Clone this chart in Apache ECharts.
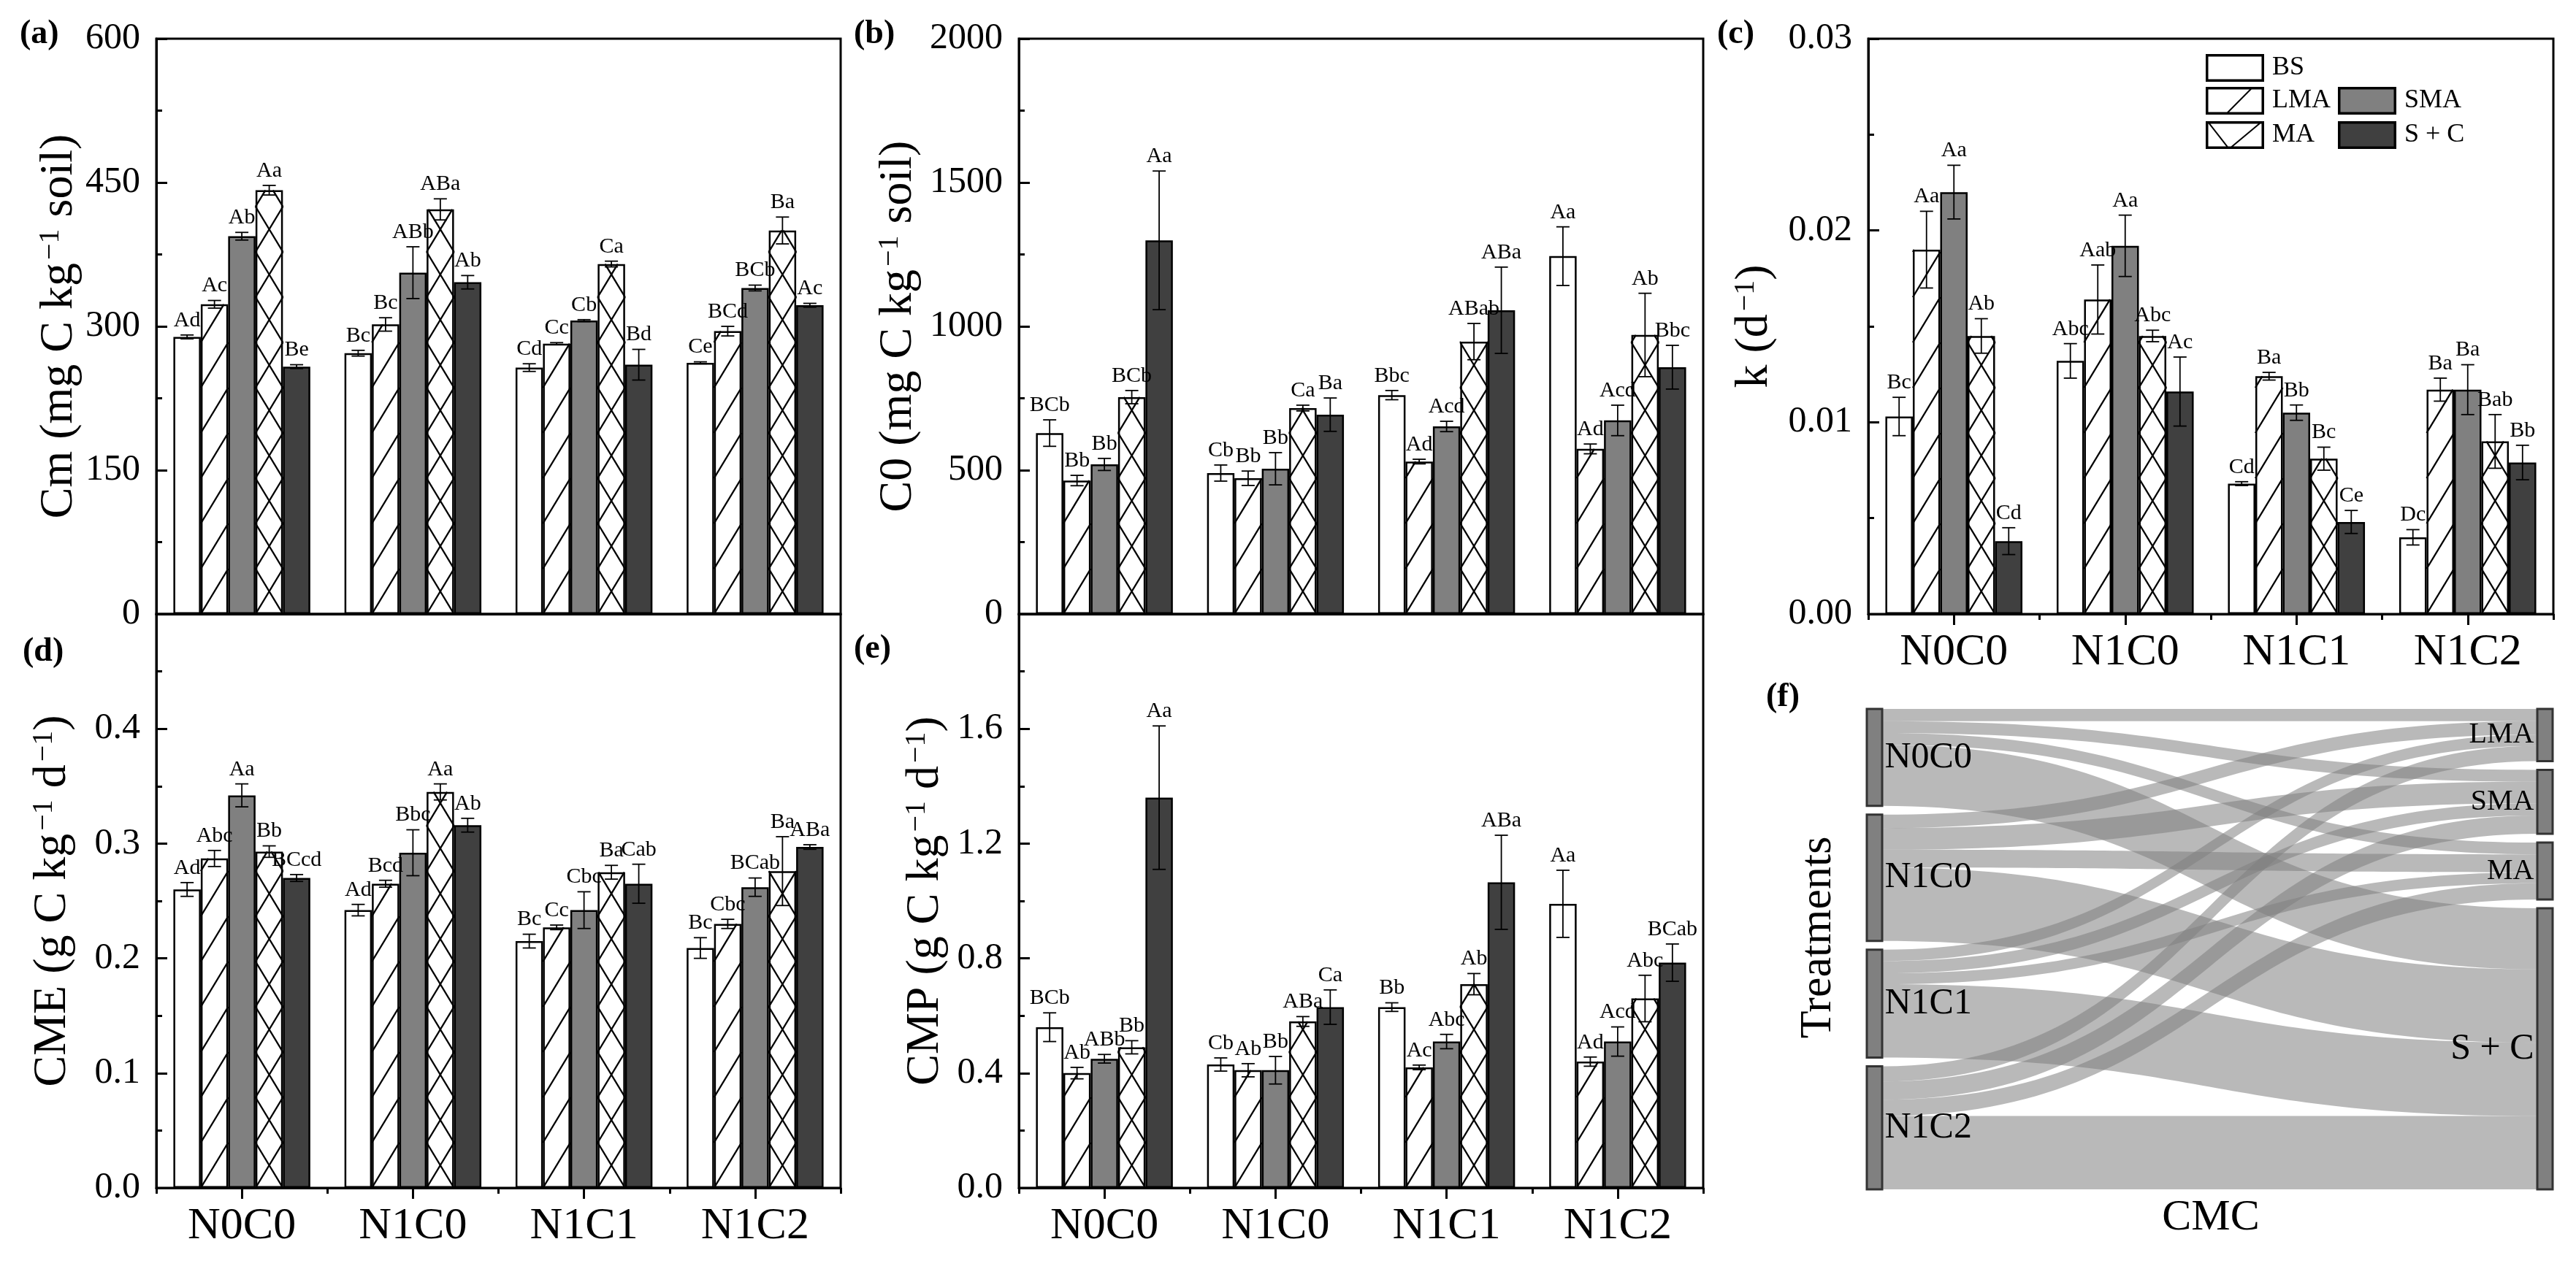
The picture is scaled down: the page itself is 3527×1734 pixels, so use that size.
<!DOCTYPE html>
<html><head><meta charset="utf-8">
<script src="https://cdn.jsdelivr.net/npm/echarts@6/dist/echarts.min.js"></script>
<style>html,body{margin:0;padding:0;background:#fff}#c{width:3527px;height:1734px}</style>
</head><body><div id="c"></div>
<script>
// ---------------- DATA ----------------
const categories = ['N0C0', 'N1C0', 'N1C1', 'N1C2'];
const seriesNames = ['BS', 'LMA', 'SMA', 'MA', 'S + C'];

// (a) Cm (mg C kg-1 soil): rows = BS, LMA, SMA, MA, S+C ; cols = categories
const cmMean = [[289, 272, 257, 262], [323, 302, 282, 295], [394, 356, 306, 340], [442, 422, 365, 400], [258, 346, 260, 322]];
const cmErr = [[2, 3, 4, 1], [4, 7, 1, 5], [4, 27, 1, 3], [5, 11, 3, 14], [2, 7, 16, 2]];
const cmLetters = [['Ad', 'Bc', 'Cd', 'Ce'], ['Ac', 'Bc', 'Cc', 'BCd'], ['Ab', 'ABb', 'Cb', 'BCb'], ['Aa', 'ABa', 'Ca', 'Ba'], ['Be', 'Ab', 'Bd', 'Ac']];

// (b) C0 (mg C kg-1 soil)
const c0Mean = [[629, 490, 761, 1244], [464, 472, 530, 574], [520, 505, 652, 673], [754, 716, 947, 970], [1299, 693, 1056, 858]];
const c0Err = [[46, 28, 16, 102], [18, 25, 8, 17], [21, 56, 18, 53], [23, 10, 63, 145], [241, 58, 150, 76]];
const c0Letters = [['BCb', 'Cb', 'Bbc', 'Aa'], ['Bb', 'Bb', 'Ad', 'Ad'], ['Bb', 'Bb', 'Acd', 'Acd'], ['BCb', 'Ca', 'ABab', 'Ab'], ['Aa', 'Ba', 'ABa', 'Bbc']];

// (c) k (d-1)
const kMean = [[0.0103, 0.0132, 0.0068, 0.0040], [0.0190, 0.0164, 0.0124, 0.0117], [0.0220, 0.0192, 0.0105, 0.0117], [0.0145, 0.0145, 0.0081, 0.0090], [0.0038, 0.0116, 0.0048, 0.0079]];
const kErr = [[0.0010, 0.0009, 0.0001, 0.0004], [0.0020, 0.0018, 0.0002, 0.0006], [0.0014, 0.0016, 0.0004, 0.0013], [0.0009, 0.0003, 0.0006, 0.0014], [0.0007, 0.0018, 0.0006, 0.0009]];
const kLetters = [['Bc', 'Abc', 'Cd', 'Dc'], ['Aa', 'Aab', 'Ba', 'Ba'], ['Aa', 'Aa', 'Bb', 'Ba'], ['Ab', 'Abc', 'Bc', 'Bab'], ['Cd', 'Ac', 'Ce', 'Bb']];

// (d) CME (g C kg-1 d-1)
const cmeMean = [[0.260, 0.242, 0.215, 0.209], [0.287, 0.265, 0.227, 0.230], [0.342, 0.292, 0.242, 0.262], [0.293, 0.345, 0.275, 0.276], [0.270, 0.316, 0.265, 0.297]];
const cmeErr = [[0.006, 0.005, 0.006, 0.009], [0.007, 0.003, 0.002, 0.004], [0.010, 0.020, 0.016, 0.008], [0.005, 0.007, 0.006, 0.030], [0.003, 0.006, 0.017, 0.002]];
const cmeLetters = [['Ad', 'Ad', 'Bc', 'Bc'], ['Abc', 'Bcd', 'Cc', 'Cbc'], ['Aa', 'Bbc', 'Cbc', 'BCab'], ['Bb', 'Aa', 'Ba', 'Ba'], ['BCcd', 'Ab', 'Cab', 'ABa']];

// (e) CMP (g C kg-1 d-1)
const cmpMean = [[0.56, 0.43, 0.63, 0.99], [0.40, 0.41, 0.42, 0.44], [0.45, 0.41, 0.51, 0.51], [0.49, 0.58, 0.71, 0.66], [1.36, 0.63, 1.065, 0.785]];
const cmpErr = [[0.05, 0.023, 0.015, 0.117], [0.02, 0.023, 0.008, 0.016], [0.015, 0.048, 0.025, 0.051], [0.023, 0.017, 0.037, 0.081], [0.25, 0.06, 0.164, 0.065]];
const cmpLetters = [['BCb', 'Cb', 'Bb', 'Aa'], ['Ab', 'Ab', 'Ac', 'Ad'], ['ABb', 'Bb', 'Abc', 'Acd'], ['Bb', 'ABa', 'Ab', 'Abc'], ['Aa', 'Ca', 'ABa', 'BCab']];

// (f) Sankey: treatments -> CMC
const sankeyLeft = ['N0C0', 'N1C0', 'N1C1', 'N1C2'];
const sankeyRight = ['LMA', 'SMA', 'MA', 'S + C'];
const sankeyFlows = [[30, 29, 29, 150], [33, 53, 44, 180], [28, 30, 27, 180], [37, 45, 40, 180]];

// tick labels
const cmTicks = [0, 150, 300, 450, 600];
const c0Ticks = [0, 500, 1000, 1500, 2000];
const kTicks = [0, 0.01, 0.02, 0.03];
const cmeTicks = [0, 0.1, 0.2, 0.3, 0.4, 0.5];
const cmpTicks = [0, 0.4, 0.8, 1.2, 1.6, 2.0];

// ---------------- STYLE / LAYOUT ----------------
const FONT = 'Liberation Serif';
const fills = ['#ffffff', '#ffffff', '#808080', '#ffffff', '#404040'];
const hatch = ['none', 'fwd', 'none', 'cross', 'none'];
const HATCH_H = 62;

const panels = [
  {mean: cmMean, err: cmErr, letters: cmLetters, ticks: cmTicks, grid: {left: 214, top: 53, width: 937, height: 788}, xlab: false, fmt: v => String(v), showMax: true, nameGap: 98,
   name: '{n|Cm (mg C kg}{s|−1}{n| soil)}'},
  {mean: c0Mean, err: c0Err, letters: c0Letters, ticks: c0Ticks, grid: {left: 1395, top: 53, width: 937, height: 788}, xlab: false, fmt: v => String(v), showMax: true, nameGap: 133,
   name: '{n|C0 (mg C kg}{s|−1}{n| soil)}'},
  {mean: kMean, err: kErr, letters: kLetters, ticks: kTicks, grid: {left: 2558, top: 53, width: 938, height: 788}, xlab: true, fmt: v => v.toFixed(2), showMax: true, nameGap: 124,
   name: '{n|k (d}{s|−1}{n|)}'},
  {mean: cmeMean, err: cmeErr, letters: cmeLetters, ticks: cmeTicks, grid: {left: 214, top: 841, width: 937, height: 786}, xlab: true, fmt: v => v.toFixed(1), showMax: false, nameGap: 110,
   name: '{n|CME (g C kg}{s|−1}{n| d}{s|−1}{n|)}'},
  {mean: cmpMean, err: cmpErr, letters: cmpLetters, ticks: cmpTicks, grid: {left: 1395, top: 841, width: 937, height: 786}, xlab: true, fmt: v => v.toFixed(1), showMax: false, nameGap: 96,
   name: '{n|CMP (g C kg}{s|−1}{n| d}{s|−1}{n|)}'}
];

function hatchSegs(x0, x1, yt, yb, dir) {
  const w = x1 - x0, h = HATCH_H, segs = [];
  for (let k = 0; k < 200; k++) {
    const yA = yb - k * h;
    if (yA <= yt + 0.5) break;
    let t = 1;
    if (yA - h < yt) t = (yA - yt) / h;
    const yE = yA - t * h;
    if (dir > 0) segs.push([x0, yA, x0 + t * w, yE]);
    else segs.push([x1, yA, x1 - t * w, yE]);
  }
  return segs;
}

function overlaySeries(g, s, p) {
  const letters = p.letters[s];
  return {
    type: 'custom', xAxisIndex: g * 2, yAxisIndex: g, z: 5, silent: true, animation: false,
    data: p.mean[s].map((v, i) => [i, v, p.err[s][i]]),
    renderItem: function (params, api) {
      const i = api.value(0), v = api.value(1), e = api.value(2);
      const top = api.coord([i, v]), base = api.coord([i, 0]);
      const band = api.size([1, 0])[0];
      const bw = band * 0.8 / 5;
      const x0 = top[0] - band * 0.4 + s * bw, x1 = x0 + bw;
      const yt = top[1], yb = base[1];
      const ch = [];
      let segs = [];
      if (hatch[s] === 'fwd' || hatch[s] === 'cross') segs = segs.concat(hatchSegs(x0, x1, yt, yb, 1));
      if (hatch[s] === 'cross') segs = segs.concat(hatchSegs(x0, x1, yt, yb, -1));
      segs.forEach(sg => ch.push({type: 'line', shape: {x1: sg[0], y1: sg[1], x2: sg[2], y2: sg[3]}, style: {stroke: '#000', lineWidth: 2.4}}));
      const xc = (x0 + x1) / 2;
      const yE1 = api.coord([i, v + e])[1], yE0 = api.coord([i, v - e])[1];
      const cw = 9;
      ch.push({type: 'line', shape: {x1: xc, y1: yE1, x2: xc, y2: yE0}, style: {stroke: '#000', lineWidth: 1.8}});
      ch.push({type: 'line', shape: {x1: xc - cw, y1: yE1, x2: xc + cw, y2: yE1}, style: {stroke: '#000', lineWidth: 1.8}});
      ch.push({type: 'line', shape: {x1: xc - cw, y1: yE0, x2: xc + cw, y2: yE0}, style: {stroke: '#000', lineWidth: 1.8}});
      ch.push({type: 'text', style: {text: letters[i], x: xc, y: Math.min(yE1, yt) - 5, align: 'center', verticalAlign: 'bottom', fontSize: 30, fontFamily: FONT, fill: '#000'}});
      return {type: 'group', children: ch};
    }
  };
}

const grids = [], xAxes = [], yAxes = [], series = [];
panels.forEach((p, g) => {
  grids.push(Object.assign({show: true, borderColor: '#000', borderWidth: 3, backgroundColor: 'transparent', outerBoundsMode: 'none', containLabel: false}, p.grid));
  xAxes.push({
    gridIndex: g, type: 'category', data: categories, position: 'bottom', offset: 0,
    axisLine: {show: true, lineStyle: {color: '#000', width: 3}},
    axisTick: {show: p.xlab, alignWithLabel: true, inside: false, length: 15, lineStyle: {color: '#000', width: 3}},
    axisLabel: {show: p.xlab, fontSize: 62, fontFamily: FONT, color: '#000', margin: 22, interval: 0},
    splitLine: {show: false}
  });
  xAxes.push({
    gridIndex: g, type: 'category', data: categories, position: 'bottom', offset: 0,
    axisLine: {show: false},
    axisTick: {show: p.xlab, alignWithLabel: false, inside: false, length: 8, lineStyle: {color: '#000', width: 3}},
    axisLabel: {show: false}, splitLine: {show: false}
  });
  const t = p.ticks;
  yAxes.push({
    gridIndex: g, type: 'value', min: t[0], max: t[t.length - 1], interval: t[1] - t[0],
    axisLine: {show: true, lineStyle: {color: '#000', width: 3}},
    axisTick: {show: true, inside: true, length: 15, lineStyle: {color: '#000', width: 3}},
    minorTick: {show: true, splitNumber: 2, length: 8, lineStyle: {color: '#000', width: 3}},
    splitLine: {show: false}, minorSplitLine: {show: false},
    axisLabel: {fontSize: 50, fontFamily: FONT, color: '#000', margin: 22, formatter: p.fmt, showMaxLabel: p.showMax, showMinLabel: true},
    name: p.name, nameLocation: 'middle', nameRotate: 90, nameGap: p.nameGap,
    nameTextStyle: {fontFamily: FONT, fontSize: 64, color: '#000',
      rich: {n: {fontFamily: FONT, fontSize: 64, color: '#000'}, s: {fontFamily: FONT, fontSize: 40, color: '#000', verticalAlign: 'top', padding: [0, 0, 22, 4]}}}
  });
  for (let s = 0; s < 5; s++) {
    series.push({
      type: 'bar', name: seriesNames[s], xAxisIndex: g * 2, yAxisIndex: g, data: p.mean[s],
      barGap: '0%', barCategoryGap: '20%', silent: true, animation: false,
      itemStyle: {color: fills[s], borderColor: '#000', borderWidth: 2.5}
    });
  }
  for (let s = 0; s < 5; s++) series.push(overlaySeries(g, s, p));
});

// sankey
const sNodes = [];
sankeyLeft.forEach(n => sNodes.push({name: n, label: {position: 'right', distance: 2, fontSize: 50}}));
sankeyRight.forEach(n => sNodes.push({name: n, label: {position: 'left', distance: 3, fontSize: n === 'S + C' ? 50 : 40}}));
const sLinks = [];
sankeyLeft.forEach((a, i) => sankeyRight.forEach((b, j) => sLinks.push({source: a, target: b, value: sankeyFlows[i][j]})));
series.push({
  type: 'sankey', name: 'CMC', left: 2556, top: 971, width: 939, height: 658,
  nodeWidth: 21, nodeGap: 12, layoutIterations: 0, nodeAlign: 'justify', draggable: false, silent: true, animation: false,
  emphasis: {disabled: true},
  data: sNodes, links: sLinks,
  itemStyle: {color: '#808080', borderColor: '#333', borderWidth: 3},
  lineStyle: {color: '#808080', opacity: 0.55, curveness: 0.5},
  label: {show: true, fontFamily: FONT, color: '#000'}
});

// legend icons
function legendIcon(kind) {
  const W = 160, H = 76, c = document.createElement('canvas');
  c.width = W; c.height = H;
  const x = c.getContext('2d');
  x.fillStyle = kind === 2 ? '#808080' : kind === 4 ? '#404040' : '#ffffff';
  x.fillRect(0, 0, W, H);
  x.strokeStyle = '#000'; x.lineWidth = 4;
  if (kind === 1) { x.beginPath(); x.moveTo(0.34 * W, H); x.lineTo(0.81 * W, 0); x.stroke(); }
  if (kind === 3) { x.beginPath(); x.moveTo(0.03 * W, 0); x.lineTo(0.4 * W, H); x.lineTo(0.97 * W, 0); x.stroke(); }
  x.lineWidth = 7; x.strokeRect(3.5, 3.5, W - 7, H - 7);
  return 'image://' + c.toDataURL();
}
const legendPos = [[3020, 74], [3020, 119], [3201, 119], [3020, 166], [3201, 166]];
const legends = seriesNames.map((n, i) => ({
  show: true, data: [{name: n, icon: legendIcon(i)}], left: legendPos[i][0], top: legendPos[i][1],
  itemWidth: 80, itemHeight: 38, padding: 0, selectedMode: false, orient: 'horizontal',
  textStyle: {fontFamily: FONT, fontSize: 36, color: '#000', padding: [0, 0, 0, 6]}
}));

const panelLetters = [['(a)', 27, 50], ['(b)', 1169, 50], ['(c)', 2351, 50], ['(d)', 31, 896], ['(e)', 1169, 892], ['(f)', 2418, 958]];
const graphics = panelLetters.map(l => ({type: 'text', left: l[1], top: l[2] - 26, z: 100,
  style: {text: l[0], fontFamily: FONT, fontSize: 46, fontWeight: 'bold', fill: '#000'}}));
graphics.push({type: 'text', x: 2490, y: 1284, rotation: Math.PI / 2, z: 100,
  style: {text: 'Treatments', fontFamily: FONT, fontSize: 62, fill: '#000', align: 'center', verticalAlign: 'middle'}});
graphics.push({type: 'text', x: 3027, y: 1668, z: 100,
  style: {text: 'CMC', fontFamily: FONT, fontSize: 60, fill: '#000', align: 'center', verticalAlign: 'middle'}});

const chart = echarts.init(document.getElementById('c'), null, {renderer: 'canvas'});
chart.setOption({
  backgroundColor: '#fff', animation: false,
  textStyle: {fontFamily: FONT},
  grid: grids, xAxis: xAxes, yAxis: yAxes, series: series, legend: legends, graphic: graphics
});
</script></body></html>
